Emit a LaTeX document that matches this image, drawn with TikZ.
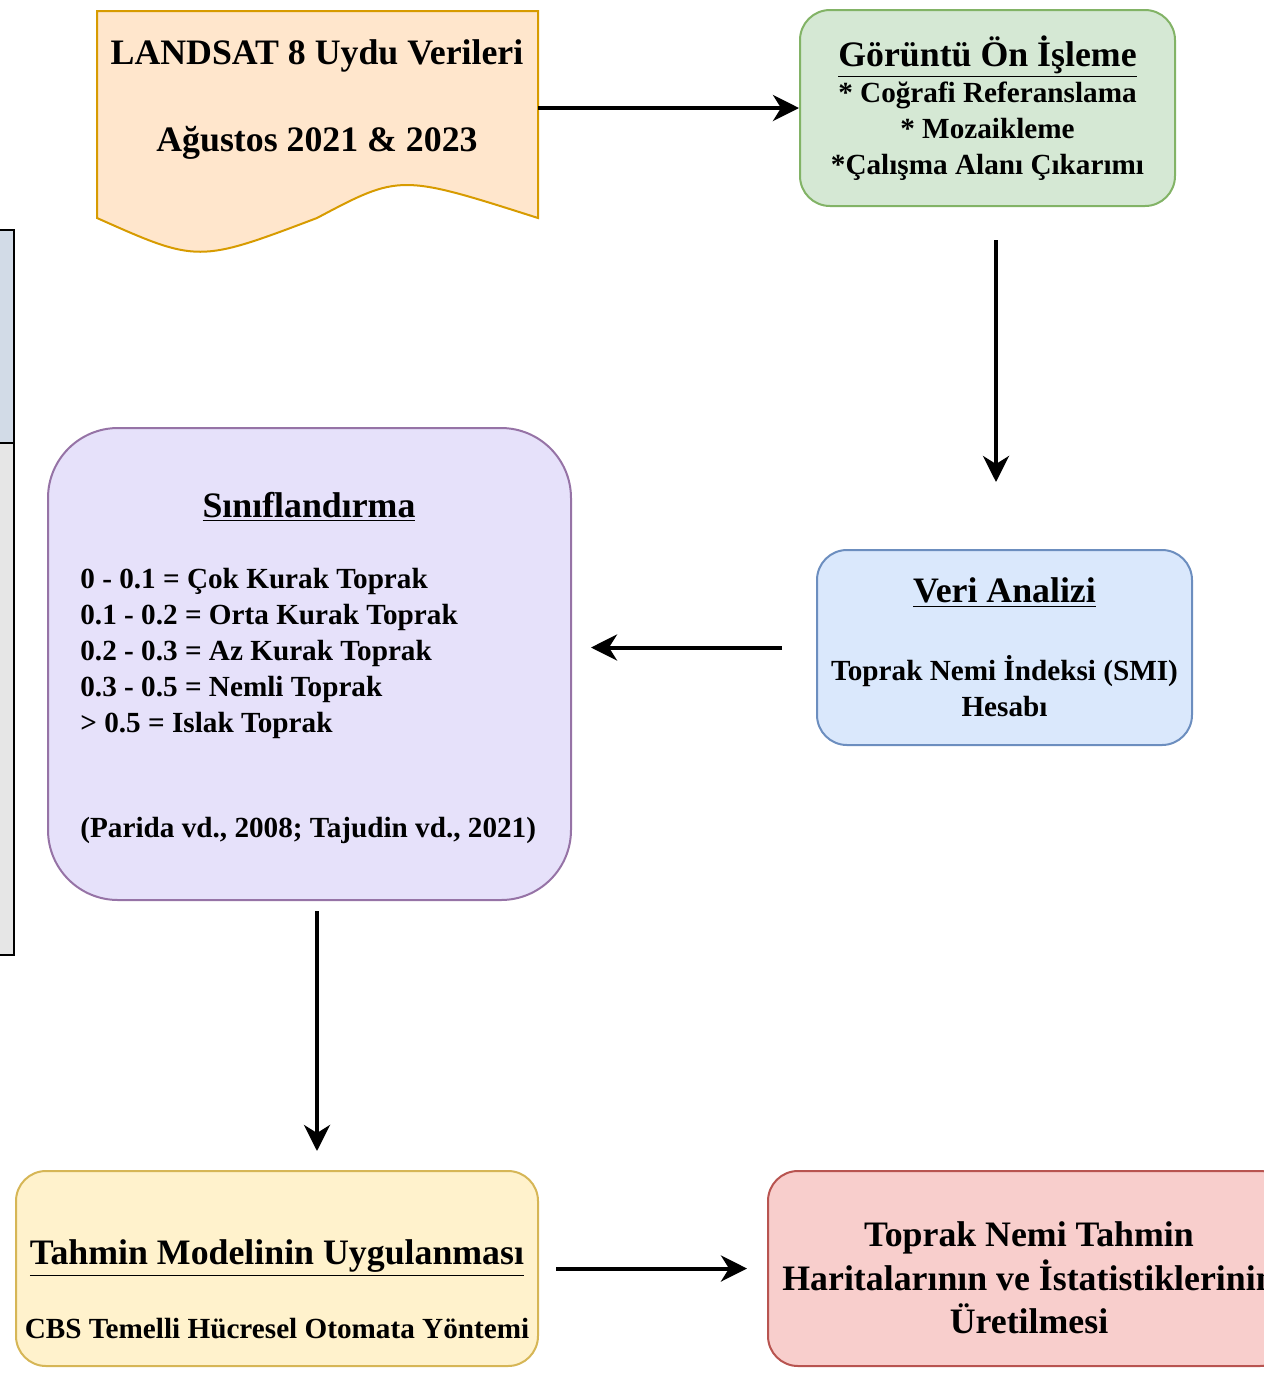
\documentclass[tikz,border=0pt]{standalone}
\usepackage{fontspec}
\setmainfont{Liberation Serif}
\usetikzlibrary{arrows.meta}

\definecolor{docFill}{HTML}{FFE6CC}
\definecolor{docLine}{HTML}{D79B00}
\definecolor{greenFill}{HTML}{D5E8D4}
\definecolor{greenLine}{HTML}{82B366}
\definecolor{blueFill}{HTML}{DAE8FC}
\definecolor{blueLine}{HTML}{6C8EBF}
\definecolor{purpleFill}{HTML}{E6E1FA}
\definecolor{purpleLine}{HTML}{9673A6}
\definecolor{yellowFill}{HTML}{FFF2CC}
\definecolor{yellowLine}{HTML}{D6B656}
\definecolor{redFill}{HTML}{F8CECC}
\definecolor{redLine}{HTML}{B85450}
\definecolor{sideTop}{HTML}{D2DBE7}
\definecolor{sideBottom}{HTML}{E6E6E6}

\newcommand{\titlesize}{\fontsize{17.9}{21.75}\selectfont}

\begin{document}
\begin{tikzpicture}[
    x=0.5pt, y=-0.5pt,
    box_style/.style={draw, line width=1pt, rounded corners=15pt, inner sep=0pt,
        align=center, font=\fontsize{14.6}{18}\selectfont\bfseries},
    text_style/.style={inner sep=0pt, align=center, font=\fontsize{14.6}{18}\selectfont\bfseries},
    flow_arrow/.style={line width=2pt, -{Stealth[length=13pt, width=13pt, inset=4pt]}}
]
    \useasboundingbox (0,0) rectangle (1264,1378);

    % --- side panel, cut off at the left ---
    \draw[line width=1pt, fill=sideTop] (-20,230) rectangle (14,443);
    \draw[line width=1pt, fill=sideBottom] (-20,443) rectangle (14,955);

    % --- document shape ---
    \draw[line width=1pt, draw=docLine, fill=docFill]
        (97,11) -- (538,11) -- (538,218)
        .. controls (400,174) .. (317,218)
        .. controls (198,263) .. (97,218) -- cycle;
    \node[minimum width=220.5pt, minimum height=103.5pt, inner sep=0pt] (landsat) at (317.5,114.5) {};
    \node[text_style, font=\titlesize\bfseries] (landsat_text) at (317,100)
        {LANDSAT 8 Uydu Verileri\\[21.75pt]Ağustos 2021 \& 2023};

    % --- boxes ---
    \node[box_style, draw=greenLine, fill=greenFill, minimum width=187.5pt, minimum height=98pt]
        (onisleme) at (987.5,108)
        {{\titlesize\underline{Görüntü Ön İşleme}}\\* Coğrafi Referanslama\\* Mozaikleme\\*Çalışma Alanı Çıkarımı};

    \node[box_style, draw=blueLine, fill=blueFill, minimum width=187.5pt, minimum height=97.5pt]
        (analiz) at (1004.5,647.5)
        {{\titlesize\underline{Veri Analizi}}\\[21pt]Toprak Nemi İndeksi (SMI)\\Hesabı};

    \node[box_style, draw=purpleLine, fill=purpleFill, rounded corners=35pt,
        minimum width=261.5pt, minimum height=236pt] (sinif) at (309.5,664) {};
    \node[text_style, font=\titlesize\bfseries] (sinif_title) at (309,507) {\underline{Sınıflandırma}};
    \node[text_style, align=left, anchor=north west] (sinif_list) at (80,568)
        {0 - 0.1 = Çok Kurak Toprak\\0.1 - 0.2 = Orta Kurak Toprak\\0.2 - 0.3 = Az Kurak Toprak\\
         0.3 - 0.5 = Nemli Toprak\\> 0.5 = Islak Toprak\\[34.5pt](Parida vd., 2008; Tajudin vd., 2021)};

    \node[box_style, draw=yellowLine, fill=yellowFill, minimum width=261pt, minimum height=97.5pt]
        (tahmin) at (277,1268.5) {};
    \node[text_style, font=\titlesize\bfseries] (tahmin_title) at (277,1258) {\underline{Tahmin Modelinin Uygulanması}};
    \node[text_style] (tahmin_sub) at (277,1329) {CBS Temelli Hücresel Otomata Yöntemi};

    \node[box_style, draw=redLine, fill=redFill, minimum width=261pt, minimum height=97.5pt]
        (uretim) at (1029,1268.5) {};
    \node[text_style, font=\titlesize\bfseries] (uretim_text) at (1029,1278)
        {Toprak Nemi Tahmin\\Haritalarının ve İstatistiklerinin\\Üretilmesi};

    % --- arrows ---
    \draw[flow_arrow] (landsat.east |- onisleme.west) -- (onisleme.west);
    \draw[flow_arrow, shorten <=16.5pt, shorten >=33.5pt]
        ([xshift=4.25pt]onisleme.south) -- ([xshift=4.25pt]onisleme.south |- analiz.north);
    \draw[flow_arrow, shorten <=17pt, shorten >=9.5pt]
        (analiz.west) -- (analiz.west -| sinif.east);
    \draw[flow_arrow, shorten <=5pt, shorten >=9.5pt]
        ([xshift=3.75pt]sinif.south) -- ([xshift=3.75pt]sinif.south |- tahmin.north);
    \draw[flow_arrow, shorten <=8.5pt, shorten >=10pt]
        (tahmin.east) -- (tahmin.east -| uretim.west);

\end{tikzpicture}
\end{document}
